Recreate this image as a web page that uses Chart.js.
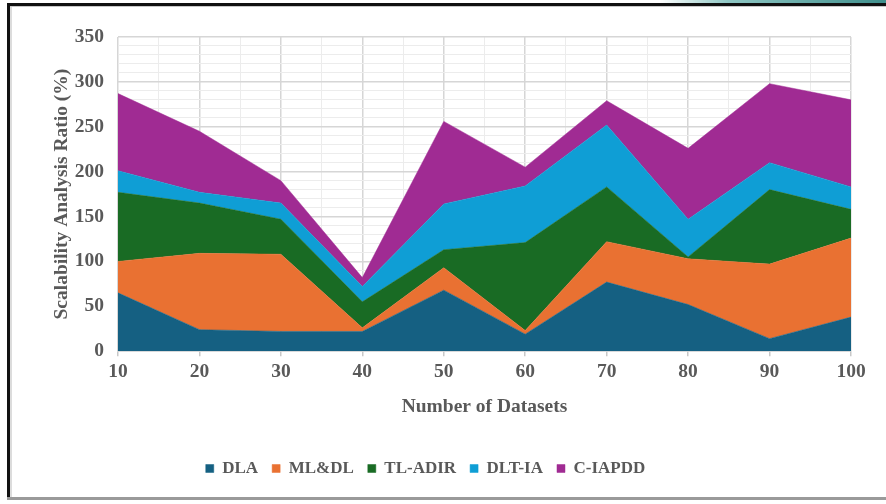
<!DOCTYPE html>
<html>
<head>
<meta charset="utf-8">
<script src="https://cdn.jsdelivr.net/npm/chart.js@4.4.1/dist/chart.umd.min.js"></script>
<style>
  html, body { margin: 0; padding: 0; background: #ffffff; }
  #wrap { position: relative; width: 886px; height: 504px; overflow: hidden; background: #ffffff; }
  #chart { position: absolute; left: 0; top: 0; }
  .frame-left { position: absolute; left: 7px; top: 4px; width: 3px; height: 496px; background: #111; }
  .frame-left-inner { position: absolute; left: 10px; top: 7px; width: 2px; height: 490px; background: #dcdcdc; }
  .frame-top { position: absolute; left: 7px; top: 3px; width: 879px; height: 3px; background: #111; }
  .frame-top-inner { position: absolute; left: 10px; top: 6px; width: 876px; height: 1px; background: #c8c8c8; }
  .frame-bottom { position: absolute; left: 7px; top: 497px; width: 879px; height: 3px; background: #9a9a9a; }
  .strip { position: absolute; left: 660px; top: 0; width: 226px; height: 3px;
           background: linear-gradient(to right, rgba(255,255,255,0), #8fc7c4 30%, #3f8f8c 100%); }
</style>
</head>
<body>
<div id="wrap">
  <canvas id="chart" width="886" height="504"></canvas>
  <div class="strip"></div>
  <div class="frame-top"></div>
  <div class="frame-top-inner"></div>
  <div class="frame-left"></div>
  <div class="frame-left-inner"></div>
  <div class="frame-bottom"></div>
</div>
<script>
// Number of datasets on the x axis
const categories = [10, 20, 30, 40, 50, 60, 70, 80, 90, 100];

// Scalability analysis ratio (%) per method, stacked from the bottom
const dla     = [65, 24, 22, 22, 68, 19, 77, 52, 14, 38];
const mlDl    = [35, 85, 86,  4, 25,  4, 45, 51, 83, 88];
const tlAdir  = [77, 56, 39, 29, 20, 98, 61,  2, 83, 32];
const dltIa   = [24, 12, 18, 17, 51, 63, 69, 42, 30, 25];
const cIapdd  = [86, 68, 25, 10, 92, 21, 27, 79, 88, 97];

const seriesNames  = ['DLA', 'ML&DL', 'TL-ADIR', 'DLT-IA', 'C-IAPDD'];
const seriesValues = [dla, mlDl, tlAdir, dltIa, cIapdd];
const seriesColors = ['#156082', '#E97132', '#196B24', '#0F9ED5', '#A02B93'];

const yTickLabels = [0, 50, 100, 150, 200, 250, 300, 350];

const textGray = '#595959';
const fontFamily = '"Liberation Serif", "Times New Roman", serif';
const axisFont = { family: fontFamily, size: 19.5, weight: 'bold' };

const datasets = seriesNames.map((name, i) => ({
  label: name,
  data: categories.map((c, j) => ({ x: c, y: seriesValues[i][j] })),
  backgroundColor: seriesColors[i],
  borderColor: seriesColors[i],
  borderWidth: 0.5,
  pointRadius: 0,
  pointHoverRadius: 0,
  tension: 0,
  fill: i === 0 ? 'origin' : '-1'
}));

new Chart(document.getElementById('chart'), {
  type: 'line',
  data: { datasets },
  options: {
    responsive: false,
    animation: false,
    devicePixelRatio: 1,
    layout: { padding: { left: 0, right: 35, top: 37, bottom: 17 } },
    plugins: {
      tooltip: { enabled: false },
      legend: {
        position: 'bottom',
        labels: {
          boxWidth: 8,
          boxHeight: 8,
          padding: 14,
          color: textGray,
          font: { family: fontFamily, size: 17, weight: 'bold' }
        }
      }
    },
    scales: {
      x: {
        type: 'linear',
        min: 10,
        max: 100,
        afterBuildTicks: (scale) => {
          const t = [];
          for (let v = 10; v <= 100; v += 5) t.push({ value: v });
          scale.ticks = t;
        },
        ticks: {
          autoSkip: false,
          maxRotation: 0,
          padding: 4,
          color: textGray,
          font: axisFont,
          callback: (v) => (categories.includes(v) ? String(v) : '')
        },
        grid: {
          drawTicks: true,
          tickLength: 5,
          color: (ctx) => (ctx.tick && ctx.tick.value % 10 === 0 ? '#d6d6d6' : '#ececec'),
          lineWidth: (ctx) => (ctx.tick && ctx.tick.value % 10 === 0 ? 1.5 : 1),
          tickColor: (ctx) => (ctx.tick && ctx.tick.value % 10 === 0 ? '#c8c8c8' : 'rgba(0,0,0,0)')
        },
        border: { color: '#d0d0d0', width: 1.5 },
        title: {
          display: true,
          text: 'Number of Datasets',
          color: textGray,
          font: axisFont,
          padding: { top: 8, bottom: 27 }
        }
      },
      y: {
        stacked: true,
        min: 0,
        max: 350,
        afterFit: (scale) => { scale.width = 118; },
        afterBuildTicks: (scale) => {
          const t = [];
          for (let v = 0; v <= 350; v += 10) t.push({ value: v });
          scale.ticks = t;
        },
        ticks: {
          autoSkip: false,
          padding: 14,
          color: textGray,
          font: axisFont,
          callback: (v) => (yTickLabels.includes(v) ? String(v) : '')
        },
        grid: {
          drawTicks: false,
          color: (ctx) => (ctx.tick && ctx.tick.value % 50 === 0 ? '#d6d6d6' : '#ececec'),
          lineWidth: (ctx) => (ctx.tick && ctx.tick.value % 50 === 0 ? 1.5 : 1)
        },
        border: { display: false },
        title: {
          display: true,
          text: 'Scalability Analysis Ratio (%)',
          color: textGray,
          font: axisFont,
          padding: { top: 50, bottom: 0 }
        }
      }
    }
  }
});
</script>
</body>
</html>
